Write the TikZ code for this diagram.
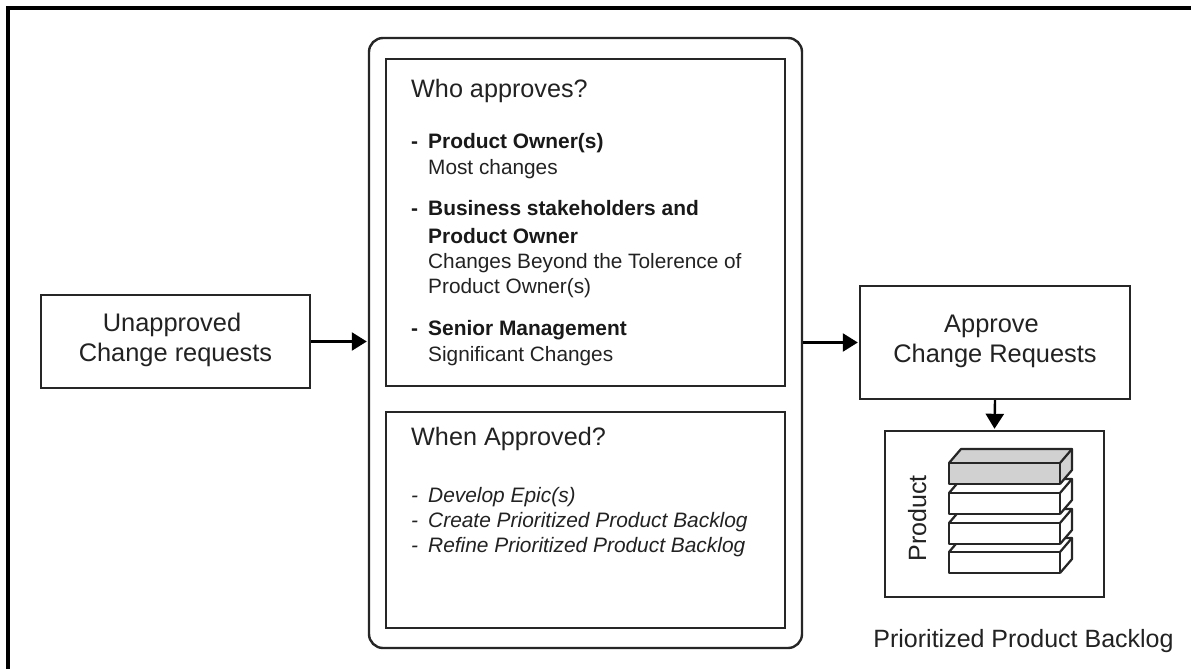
\documentclass[tikz,border=0pt]{standalone}
\usepackage{fontspec}
\setmainfont{Liberation Sans}
\usetikzlibrary{arrows.meta}
\definecolor{txt}{HTML}{222222}
\tikzset{
  linebox/.style={draw=black!85, line width=2.4pt, fill=white, inner sep=0pt, align=center, text=txt, font=\fontsize{25.4}{30}\selectfont},
  flow/.style={draw=black, line width=2.4pt, -{Triangle[length=15pt,width=18pt]}, shorten >=1pt},
  head/.style={anchor=base west, inner sep=0pt, text=txt, font=\fontsize{25.2}{30}\selectfont},
  strong/.style={anchor=base west, inner sep=0pt, text=black!90, font=\fontsize{20.9}{24}\selectfont\bfseries},
  plain/.style={anchor=base west, inner sep=0pt, text=txt, font=\fontsize{20.8}{24}\selectfont},
  slant/.style={anchor=base west, inner sep=0pt, text=txt, font=\fontsize{20.9}{24}\selectfont\itshape},
  brick/.style={draw=black!85, line width=2.2pt, line join=round},
}
\newcommand{\brick}[2]{%
  \fill[#2] (949,#1) rectangle (1060,#1+21);
  \fill[#2] (949,#1) -- (961,#1-14) -- (1072,#1-14) -- (1072,#1+7) -- (1060,#1+21) -- (1060,#1) -- cycle;
  \draw[brick] (949,#1) rectangle (1060,#1+21);
  \draw[brick] (949,#1) -- (961,#1-14) -- (1072,#1-14) -- (1060,#1);
  \draw[brick] (1072,#1-14) -- (1072,#1+7) -- (1060,#1+21);
}
\begin{document}
\begin{tikzpicture}[x=1pt,y=-1pt]
\useasboundingbox (0,0) rectangle (1191,669);
\fill[white] (0,0) rectangle (1191,669);
\draw[line width=4pt, black, line join=miter] (8,669) -- (8,8) -- (1191,8);

\node[linebox, rounded corners=14pt, minimum width=433pt, minimum height=610pt] (outer) at (585.5,343) {};
\node[linebox, minimum width=399pt, minimum height=327pt] (who) at (585.5,222.5) {};
\node[linebox, minimum width=399pt, minimum height=216pt] (when) at (585.5,520) {};
\node[linebox, minimum width=269pt, minimum height=93pt] (unapproved) at (175.5,341.5) {Unapproved\hspace*{7pt}\\Change requests\rule[-8.5pt]{0pt}{1pt}};
\node[linebox, minimum width=270pt, minimum height=113pt] (approve) at (995,342.5) {Approve\hspace*{7pt}\\Change Requests\rule[-7.5pt]{0pt}{1pt}};
\node[linebox, minimum width=219pt, minimum height=166pt] (backlog) at (994.5,514) {};

\draw[flow] (unapproved.east) -- (outer.west |- unapproved.east);
\draw[flow] (outer.east |- approve.west) -- (approve.west);
\draw[flow] (approve.south) -- (backlog.north);

\node[head] (whoT) at (411,97) {Who approves?};
\node[strong] (d1) at (411,148) {-};
\node[strong] (p1) at (428,148) {Product Owner(s)};
\node[plain] (p1b) at (428,174) {Most changes};
\node[strong] (d2) at (411,215) {-};
\node[strong] (p2) at (428,215) {Business stakeholders and};
\node[strong] (p2a) at (428,243) {Product Owner};
\node[plain] (p2b) at (428,268) {Changes Beyond the Tolerence of};
\node[plain] (p2c) at (428,293) {Product Owner(s)};
\node[strong] (d3) at (411,335) {-};
\node[strong] (p3) at (428,335) {Senior Management};
\node[plain] (p3b) at (428,361) {Significant Changes};

\node[head] (whenT) at (411,445) {When Approved?};
\node[slant] (e1) at (411,502) {-};
\node[slant] (t1) at (428,502) {Develop Epic(s)};
\node[slant] (e2) at (411,527) {-};
\node[slant] (t2) at (428,527) {Create Prioritized Product Backlog};
\node[slant] (e3) at (411,552) {-};
\node[slant] (t3) at (428,552) {Refine Prioritized Product Backlog};

\brick{552}{white}
\brick{523}{white}
\brick{493}{white}
\brick{463}{black!18}

\node[anchor=base, rotate=90, inner sep=0pt, text=txt, font=\fontsize{25}{30}\selectfont] (prod) at (926,518.5) {Product};
\node[anchor=base, inner sep=0pt, text=txt, font=\fontsize{25}{30}\selectfont] (caption) at (1023.5,647) {Prioritized Product Backlog};
\end{tikzpicture}
\end{document}
